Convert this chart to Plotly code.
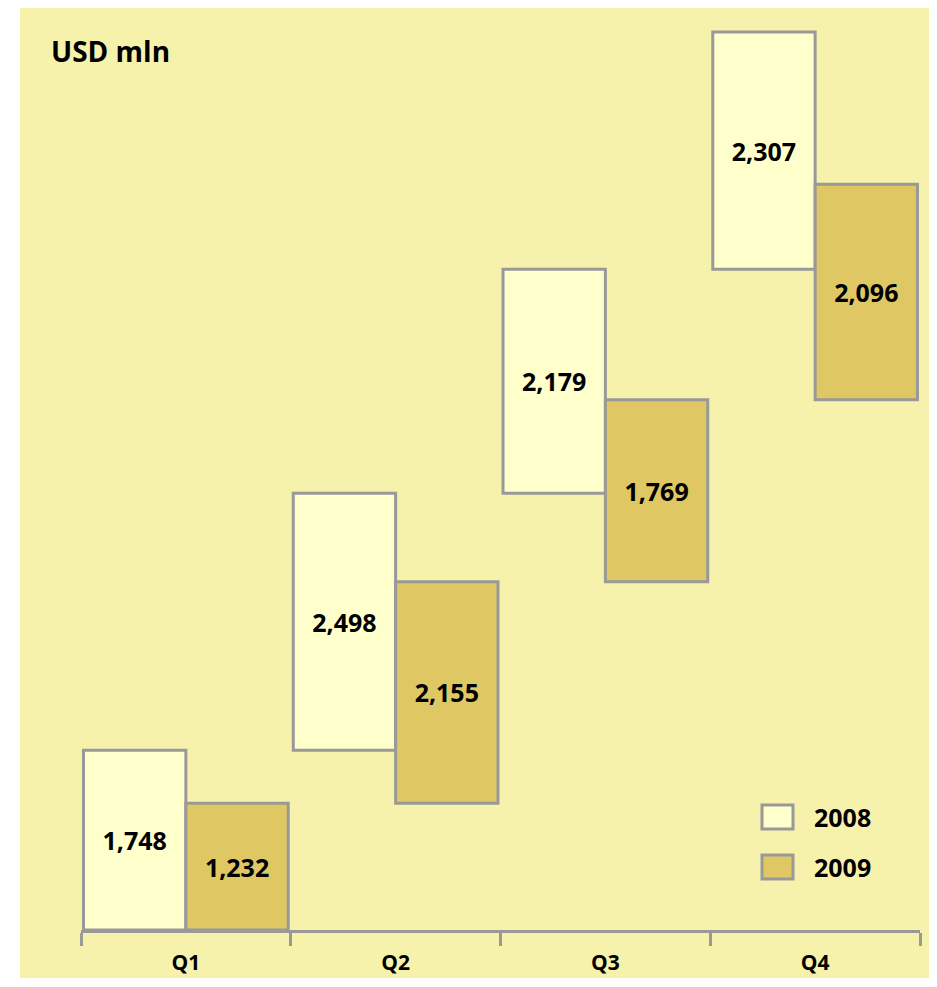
import numpy as np
import plotly.graph_objects as go

# Quarterly values, USD mln
quarters = ["Q1", "Q2", "Q3", "Q4"]
values_2008 = [1748, 2498, 2179, 2307]
values_2009 = [1232, 2155, 1769, 2096]
labels_2008 = ["1,748", "2,498", "2,179", "2,307"]
labels_2009 = ["1,232", "2,155", "1,769", "2,096"]

BG = "#F7F2AB"
FILL_2008 = "#FFFFCC"
FILL_2009 = "#DFC764"
EDGE = "#999999"
FONT = "Open Sans"

# the page body adds an 8px margin, keep the whole page inside the window
OFF = 8
W, H = 937 - 2 * OFF, 987 - 2 * OFF - 1
L, T = 81 - OFF, 25 - OFF
R = W - (920 - OFF)
B = H - (930 - OFF)
PW, PH = W - L - R, H - T - B


def px(x, y):
    """Pixel position in the window -> paper coordinates."""
    return (x - OFF - L) / PW, (H - B - (y - OFF)) / PH


# each year's bars float on top of the running total of earlier quarters
base_2008 = np.concatenate([[0], np.cumsum(values_2008)[:-1]])
base_2009 = np.concatenate([[0], np.cumsum(values_2009)[:-1]])

fig = go.Figure()
for name, vals, base, text, fill in [
    ("2008", values_2008, base_2008, labels_2008, FILL_2008),
    ("2009", values_2009, base_2009, labels_2009, FILL_2009),
]:
    fig.add_bar(
        x=quarters,
        y=vals,
        base=base,
        name=name,
        text=text,
        textposition="inside",
        insidetextanchor="middle",
        textangle=0,
        textfont=dict(family=FONT, size=25, color="black", weight="bold"),
        marker=dict(color=fill, line=dict(color=EDGE, width=3)),
        showlegend=False,
    )

shapes = []
x0, y0 = px(20, OFF)
x1, y1 = px(W + OFF, H + OFF)
shapes.append(dict(type="rect", xref="paper", yref="paper", x0=x0, y0=y1, x1=x1, y1=y0,
                   fillcolor=BG, line=dict(width=0), layer="below"))

annotations = [
    dict(text="<b>USD mln</b>", xref="paper", yref="paper", x=px(49, 0)[0], y=px(0, 51)[1],
         xanchor="left", yanchor="middle", showarrow=False,
         font=dict(family=FONT, size=28, color="black")),
]

# legend drawn by hand so the swatches can be as big as in the original
for name, fill, top in [("2008", FILL_2008, 805), ("2009", FILL_2009, 855)]:
    ax0, ay0 = px(762, top)
    ax1, ay1 = px(793, top + 24)
    shapes.append(dict(type="rect", xref="paper", yref="paper", x0=ax0, y0=ay1, x1=ax1, y1=ay0,
                       fillcolor=fill, line=dict(color=EDGE, width=3)))
    annotations.append(dict(text=f"<b>{name}</b>", xref="paper", yref="paper",
                            x=px(812, 0)[0], y=px(0, top + 12)[1],
                            xanchor="left", yanchor="middle", showarrow=False,
                            font=dict(family=FONT, size=25, color="black")))

fig.update_layout(
    width=W,
    height=H,
    margin=dict(l=L, r=R, t=T, b=B),
    paper_bgcolor="white",
    plot_bgcolor=BG,
    barmode="group",
    bargap=0.024,
    bargroupgap=0,
    shapes=shapes,
    annotations=annotations,
    font=dict(family=FONT, color="black"),
)
fig.update_xaxes(
    automargin=False,
    showline=True,
    linecolor=EDGE,
    linewidth=3,
    ticks="outside",
    tickson="boundaries",
    ticklen=13,
    tickwidth=3,
    tickcolor=EDGE,
    ticklabelstandoff=12,
    tickfont=dict(family=FONT, size=21, color="black", weight="bold"),
    showgrid=False,
)
fig.update_yaxes(range=[0, 8800], visible=False, showgrid=False, zeroline=False)

fig.write_html("out.html")
